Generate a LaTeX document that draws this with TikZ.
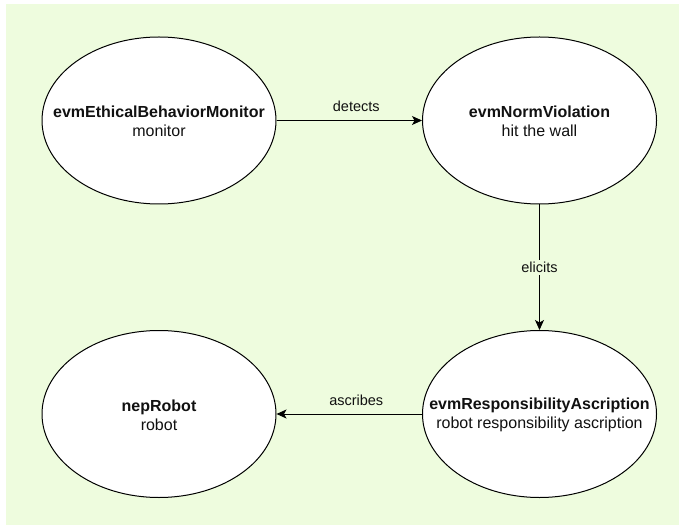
\documentclass[tikz,border=0pt]{standalone}
\usepackage{fontspec}
\setmainfont{Liberation Sans}
\usetikzlibrary{arrows.meta,shapes.geometric}
\definecolor{bggreen}{HTML}{EEFCDE}
\definecolor{txt}{HTML}{111111}
\tikzset{
  evnode/.style={ellipse, draw=black, line width=1pt, fill=white, minimum width=234pt, minimum height=167pt, inner sep=0pt},
  evtext/.style={align=center, inner sep=0pt, font=\fontsize{16}{19}\selectfont, text=txt},
  conn/.style={draw=black, line width=1pt, -{Stealth[length=10pt,width=9pt,inset=2.5pt]}},
  elabel/.style={font=\fontsize{14.5}{16}\selectfont, text=txt, inner sep=2pt}
}
\begin{document}
\begin{tikzpicture}[x=1pt,y=-1pt]
\useasboundingbox (0,0) rectangle (679,526);
\fill[bggreen] (6,4) rectangle (679,525);
\node[evnode] (mon) at (159,120.5) {};
\node[evnode] (norm) at (539.5,120.5) {};
\node[evnode] (resp) at (539.5,414) {};
\node[evnode] (robot) at (159,414) {};
\node[evtext] (monT) at ([yshift=-1pt]mon.center) {\textbf{evmEthicalBehaviorMonitor}\\monitor};
\node[evtext] (normT) at ([yshift=-1pt]norm.center) {\textbf{evmNormViolation}\\hit the wall};
\node[evtext] (respT) at ([yshift=-1pt]resp.center) {\textbf{evmResponsibilityAscription}\\robot responsibility ascription};
\node[evtext] (robotT) at ([yshift=-1pt]robot.center) {\textbf{nepRobot}\\robot};
\draw[conn] (mon.east) -- (norm.west) node[elabel, midway, above=6pt, xshift=7pt] {detects};
\draw[conn] (norm.south) -- (resp.north) node[elabel, midway, fill=bggreen] {elicits};
\draw[conn] (resp.west) -- (robot.east) node[elabel, midway, above=6pt, xshift=7pt] {ascribes};
\end{tikzpicture}
\end{document}
